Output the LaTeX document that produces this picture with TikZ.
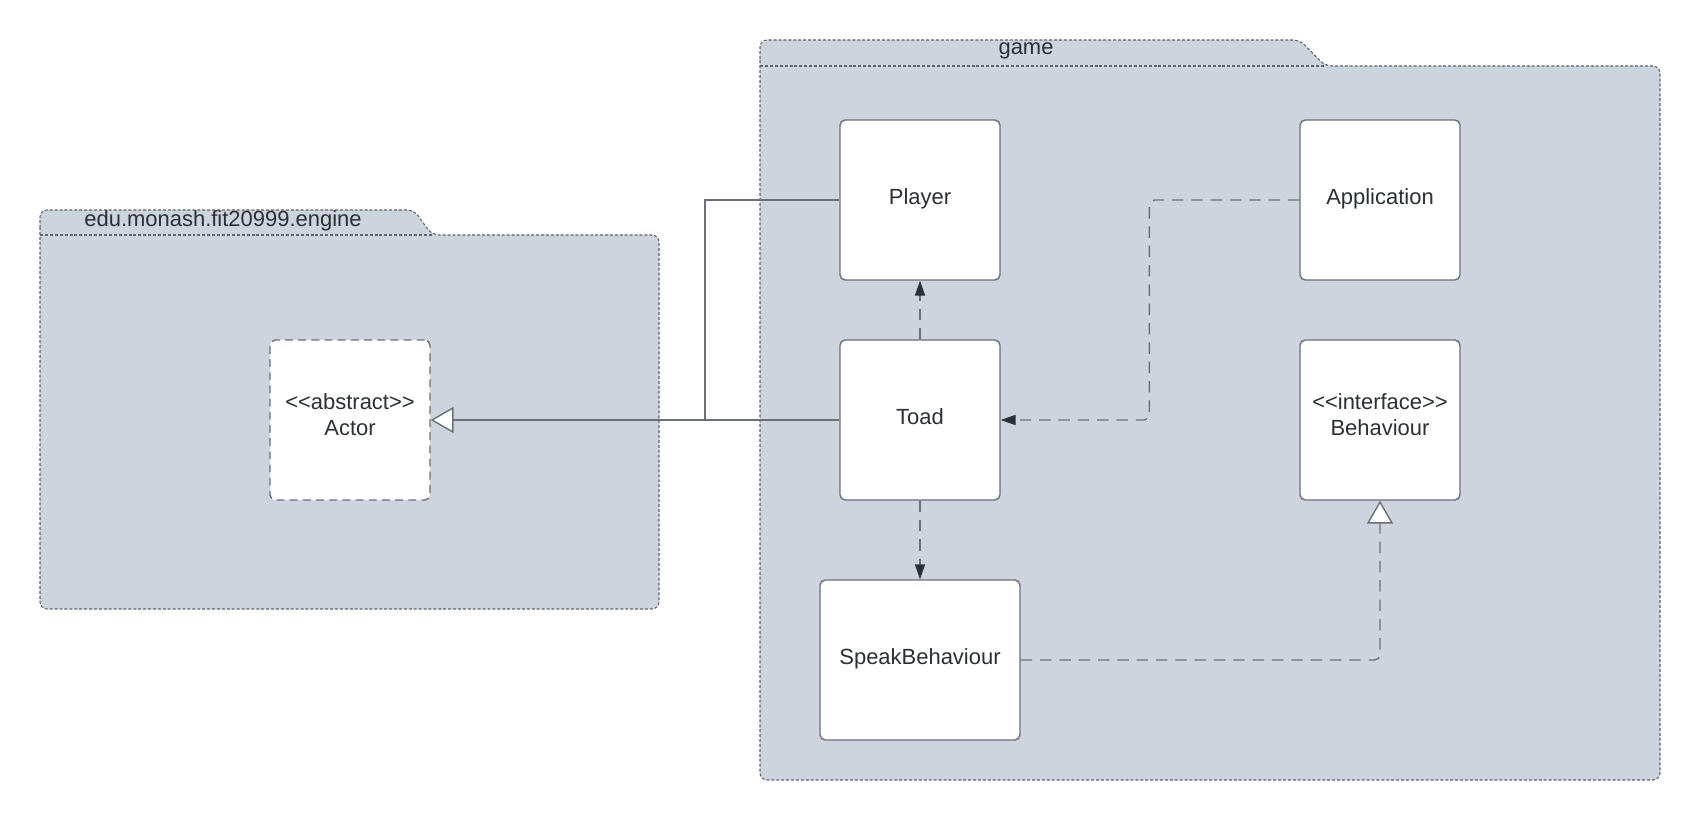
\documentclass[tikz,border=0pt]{standalone}
\usepackage{fontspec}
\newfontfamily\umlfont{Liberation Sans}
\usetikzlibrary{arrows.meta,positioning}
\definecolor{pkgfill}{HTML}{CED4DD}
\definecolor{pkgline}{HTML}{5F646C}
\definecolor{ink}{HTML}{2B2F36}
\definecolor{wire}{HTML}{6B7078}

\begin{document}
\begin{tikzpicture}[x=0.02cm,y=-0.02cm,>=Stealth,font=\umlfont\fontsize{12.5}{14.8}\selectfont,text=ink,
  pkg/.style={draw=pkgline,fill=pkgfill,line width=0.6pt,dash pattern=on 1.7pt off 1.1pt,rounded corners=4pt},
  cls/.style={draw=wire,fill=white,line width=0.8pt,rounded corners=3pt,minimum width=3.2cm,minimum height=3.2cm,align=center,text height=10pt,text depth=5.3pt},
  stereo/.style={cls,text height={},text depth=5.7pt},
  assoc/.style={draw=wire,line width=0.8pt},
  dep/.style={draw=wire,line width=0.8pt,dash pattern=on 6.5pt off 4.5pt,rounded corners=3pt,-{Triangle[length=8.5pt,width=5.7pt,color=ink]}},
  gen/.style={draw=wire,line width=0.8pt,-{Triangle[length=13pt,width=14.7pt,fill=white]}},
  real/.style={gen,dash pattern=on 6.5pt off 4.5pt,rounded corners=3pt}]
\useasboundingbox (0,0) rectangle (1700,820);

% packages
\draw[pkg] (40,235) -- (40,210) -- (414,210) -- (432,235) -- (659,235) -- (659,609) -- (40,609) -- cycle;
\draw[pkg,fill=none] (40,235) -- (432,235);
\node (engine) at (223,221) {edu.monash.fit20999.engine};

\draw[pkg] (760,66) -- (760,40) -- (1300,40) -- (1325,66) -- (1660,66) -- (1660,780) -- (760,780) -- cycle;
\draw[pkg,fill=none] (760,66) -- (1325,66);
\node (game) at (1026,51) {game};

% classes
\node[stereo,dash pattern=on 4.5pt off 3pt] (actor) at (350,420) {<<abstract>>\\Actor};
\node[cls] (player) at (920,200) {Player};
\node[cls] (app)    at (1380,200) {Application};
\node[cls] (toad)   at (920,420) {Toad};
\node[stereo] (behav)  at (1380,420) {<<interface>>\\Behaviour};
\node[cls,minimum width=4cm] (speak) at (920,660) {SpeakBehaviour};
\coordinate (join) at (705,420);

% relations
\draw[gen] (toad.west) -- (actor.east);
\draw[assoc] (player.west) -| (join);
\draw[dep] (toad.north) -- (player.south);
\draw[dep] (toad.south) -- (speak.north);
\draw[dep] (app.west) -- ++(-150,0) |- (toad.east);
\draw[real] (speak.east) -| (behav.south);
\end{tikzpicture}
\end{document}
